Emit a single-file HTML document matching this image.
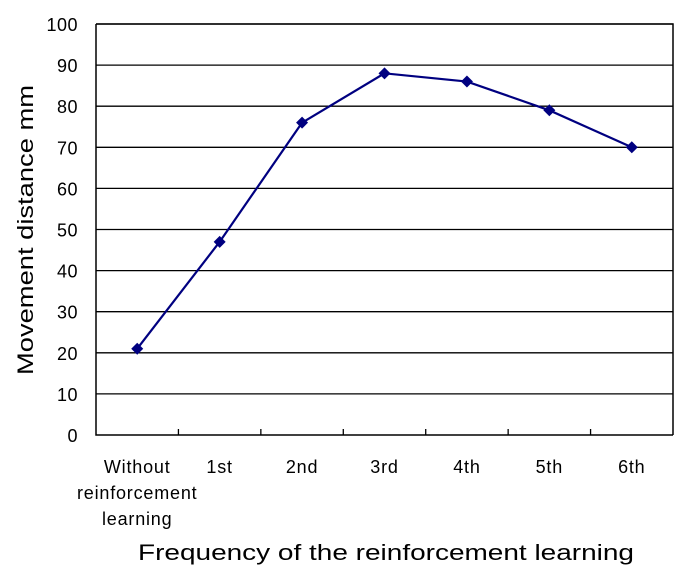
<!DOCTYPE html>
<html><head><meta charset="utf-8"><style>
body{margin:0;background:#fff;}
svg text{font-family:"Liberation Sans",sans-serif;fill:#000;}
</style></head><body>
<svg id="chart" width="688" height="578" xmlns="http://www.w3.org/2000/svg">
<g id="grid"></g><g id="axes"></g><g id="series"></g><g id="labels"></g>
<text transform="translate(33,230) rotate(-90)" text-anchor="middle" font-size="22" textLength="290" lengthAdjust="spacingAndGlyphs">Movement distance mm</text>
<text x="386" y="560" text-anchor="middle" font-size="22" textLength="496" lengthAdjust="spacingAndGlyphs">Frequency of the reinforcement learning</text>
</svg>
<script>
const categories=[["Without","reinforcement","learning"],["1st"],["2nd"],["3rd"],["4th"],["5th"],["6th"]];
const values=[21,47,76,88,86,79,70];
const yTicks=[0,10,20,30,40,50,60,70,80,90,100];
const L=96,R=673,T=24,B=435;
const NS="http://www.w3.org/2000/svg";
const xs=i=>L+(R-L)/categories.length*(i+0.5);
const ys=v=>B-(B-T)*v/100;
function mk(t,a,p){const e=document.createElementNS(NS,t);for(const k in a)e.setAttribute(k,a[k]);p.appendChild(e);return e;}
const grid=document.getElementById('grid'),axes=document.getElementById('axes'),series=document.getElementById('series'),labels=document.getElementById('labels');
yTicks.forEach(v=>{
 if(v>0){const g=mk('line',{x1:L,x2:R,y1:ys(v),y2:ys(v),stroke:'#000','stroke-width':1.3},grid);
 
 }
 const t=mk('text',{x:L-18,y:ys(v)+7,'text-anchor':'end','font-size':18,'letter-spacing':0.5},labels);t.textContent=v;
 
 
});
const frame=mk('path',{d:`M${L},${T}H${R}V${B}M${L},${T}V${B}H${R}`,fill:'none',stroke:'#000','stroke-width':1.5},axes);


for(let i=1;i<categories.length;i++){const x=L+(R-L)/categories.length*i;
 const tk=mk('line',{x1:x,x2:x,y1:B,y2:B-6,stroke:'#000','stroke-width':1.3},axes);
 
 }
categories.forEach((c,i)=>{const t=mk('text',{x:xs(i),'text-anchor':'middle','font-size':18,'letter-spacing':0.8},labels);
 
 
 c.forEach((s,j)=>{const sp=mk('tspan',{x:xs(i),y:473+j*26},t);sp.textContent=s;});});
const line=mk('polyline',{points:values.map((v,i)=>xs(i)+','+ys(v)).join(' '),fill:'none',stroke:'#000080','stroke-width':2.2},series);


values.forEach((v,i)=>{const x=xs(i),y=ys(v);
 const m=mk('polygon',{points:`${x},${y-6} ${x+6},${y} ${x},${y+6} ${x-6},${y}`,fill:'#000080'},series);
 
 });
</script>
</body></html>
